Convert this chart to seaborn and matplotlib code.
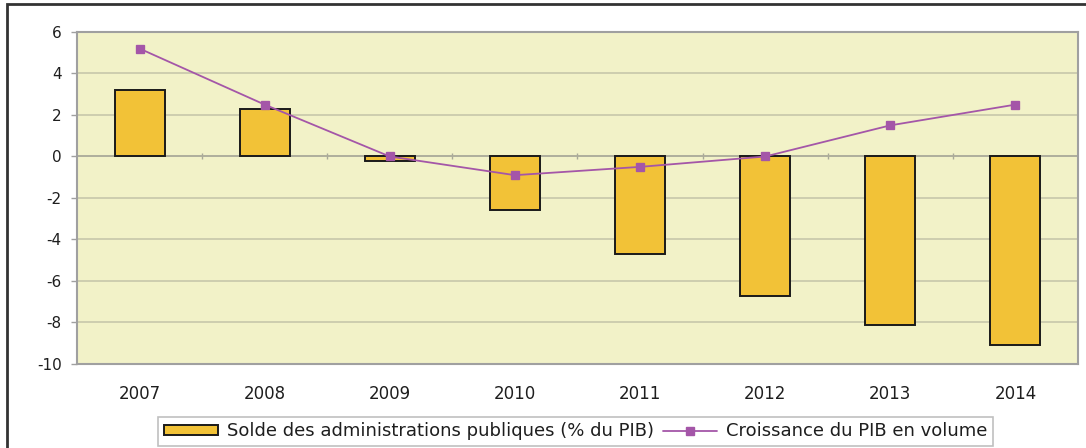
import matplotlib
matplotlib.use("Agg")
import matplotlib.pyplot as plt
import seaborn as sns
import pandas as pd
import numpy as np
from matplotlib.patches import Rectangle
from matplotlib.lines import Line2D
from matplotlib.patches import Patch

years = ["2007", "2008", "2009", "2010", "2011", "2012", "2013", "2014"]
solde = [3.2, 2.3, -0.2, -2.6, -4.7, -6.7, -8.1, -9.1]
croissance = [5.2, 2.5, 0.0, -0.9, -0.5, 0.0, 1.5, 2.5]
yticks = [6, 4, 2, 0, -2, -4, -6, -8, -10]
label_bar = "Solde des administrations publiques (% du PIB)"
label_line = "Croissance du PIB en volume"

sns.set_theme(style="white")
plt.rcParams["font.family"] = ["DejaVu Sans"]

df = pd.DataFrame({"year": years, "solde": solde, "croissance": croissance})

fig = plt.figure(figsize=(10.86, 4.48), dpi=100)
ax = fig.add_axes([0.0709, 0.1875, 0.9217, 0.7411])
ax.set_facecolor("#F2F2C8")

bar_color = "#F2C237"
line_color = "#A456A8"
text_color = "#1e1e1e"

sns.barplot(data=df, x="year", y="solde", color=bar_color, width=0.4,
            edgecolor="#1a1a1a", linewidth=1.4, saturation=1, ax=ax, zorder=3)
sns.pointplot(data=df, x="year", y="croissance", color=line_color, markers="s",
              markersize=6, linewidth=1.3, ax=ax, zorder=4)

ax.set_ylim(-10, 6)
ax.set_xlim(-0.5, len(years) - 0.5)
ax.set_yticks(yticks)
ax.set_yticklabels([str(v) for v in yticks])
ax.set_xlabel("")
ax.set_ylabel("")
ax.yaxis.grid(True, color="#C4C4A8", linewidth=1.1, zorder=0)
ax.set_axisbelow(True)
ax.axhline(0, color="#A8A898", linewidth=1.1, zorder=2)

for s in ax.spines.values():
    s.set_color("#A0A0A0")
    s.set_linewidth(1.5)

ax.tick_params(axis="y", left=True, length=4, width=1, color="#A0A0A0",
               labelsize=11, labelcolor=text_color, pad=7)
ax.tick_params(axis="x", bottom=False, labelsize=12, labelcolor=text_color, pad=9)

sec = ax.secondary_xaxis(10 / 16)
sec.set_xticks(np.arange(len(years) - 1) + 0.5)
sec.set_xticklabels([])
sec.tick_params(axis="x", direction="inout", length=5, width=1, color="#A8A898")
sec.spines["top"].set_visible(False)
sec.spines["bottom"].set_visible(False)

handles = [Patch(facecolor=bar_color, edgecolor="#1a1a1a", linewidth=1.4),
           Line2D([0], [0], color=line_color, marker="s", markersize=6, linewidth=1.3)]
leg = fig.legend(handles, [label_bar, label_line], loc="center",
                 bbox_to_anchor=(0.53, 0.037), ncol=2, frameon=True, fancybox=False,
                 edgecolor="#B0B0B0", fontsize=13, handlelength=3.0,
                 handleheight=0.45, columnspacing=0.5, handletextpad=0.5,
                 borderpad=0.3, borderaxespad=0)
leg.get_frame().set_linewidth(1.2)
for t in leg.get_texts():
    t.set_color(text_color)

fig.patches.append(Rectangle((7 / 1086, -0.1), 1.2, 1.1 - 4 / 448,
                             transform=fig.transFigure, fill=False,
                             edgecolor="#333333", linewidth=2.0))

fig.savefig("out.png", dpi=100)
